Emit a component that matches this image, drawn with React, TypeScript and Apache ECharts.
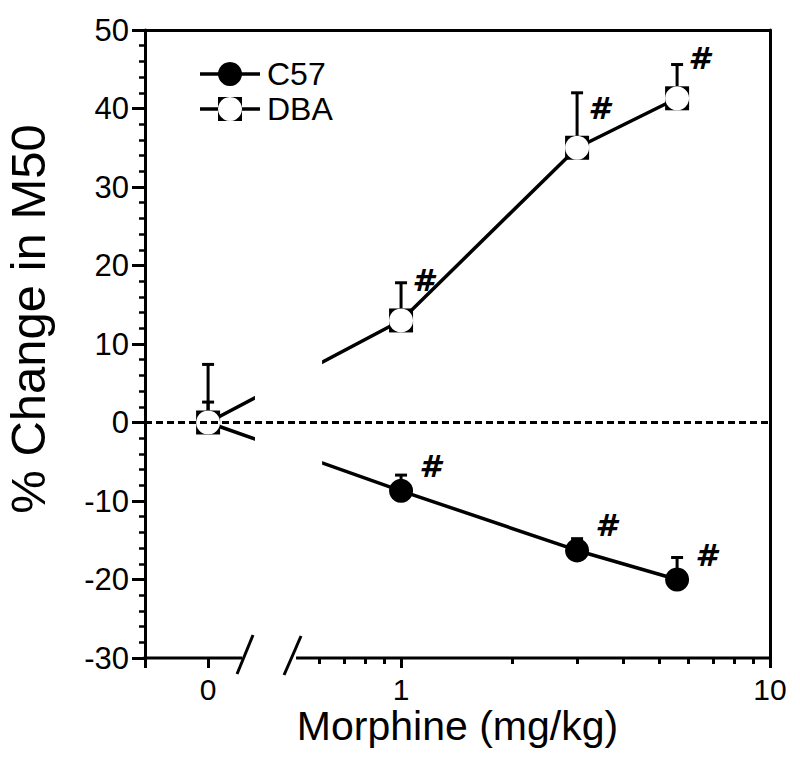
import React, { useEffect, useRef } from "react";
import * as echarts from "echarts";

// ---- data ----
const doses = [0, 1, 3, 5.6]; // mg/kg
const c57Mean = [0, -8.7, -16.3, -20.0];
const c57Upper = [2.6, -6.7, -14.8, -17.2];
const dbaMean = [0, 13.0, 35.0, 41.3];
const dbaUpper = [7.4, 17.8, 42.0, 45.6];
const c57Sig = [false, true, true, true];
const dbaSig = [false, true, true, true];
const xMajorDoses = [0, 1, 10];
const xMinorDoses = [0.6, 0.7, 0.8, 0.9, 2, 3, 4, 5, 6, 7, 8, 9];
const yMin = -30;
const yMax = 50;
const yStep = 10;

// ---- broken axis layout (in decades of the log scale) ----
const ZERO_POS = -0.523; // where dose 0 sits, left of the break
const X_MIN = -0.694;
const X_MAX = 1;
const BREAK_L = -0.431;
const BREAK_R = -0.2846;
const GAP_L = -0.396;
const GAP_R = -0.214;

const toAxis = (d: number) => (d === 0 ? ZERO_POS : Math.log10(d));
const FONT = "'Liberation Sans', Arial, Helvetica, sans-serif";
const SIG_FONT = "'DejaVu Sans', 'Liberation Sans', sans-serif";

export default function App() {
  const ref = useRef<HTMLDivElement>(null);

  useEffect(() => {
    const chart = echarts.init(ref.current!, null, { renderer: "svg" });

    const c57Data = doses.map((d, i) => [toAxis(d), c57Mean[i]]);
    const dbaData = doses.map((d, i) => [toAxis(d), dbaMean[i]]);
    const errData = [
      ...doses.map((d, i) => [toAxis(d), c57Mean[i], c57Upper[i]]),
      ...doses.map((d, i) => [toAxis(d), dbaMean[i], dbaUpper[i]]),
    ];
    const c57SigData = doses
      .map((d, i) => (c57Sig[i] ? [toAxis(d), c57Mean[i]] : null))
      .filter(Boolean);
    const dbaSigData = doses
      .map((d, i) => (dbaSig[i] ? [toAxis(d), dbaMean[i]] : null))
      .filter(Boolean);

    const baseX = {
      type: "value" as const,
      min: X_MIN,
      max: X_MAX,
      splitLine: { show: false },
      axisLine: { show: false, onZero: false },
    };

    const sigSeries = (name: string, data: any[], offset: number[]) => ({
      type: "scatter",
      name,
      z: 6,
      silent: true,
      data,
      symbol: "circle",
      symbolSize: 2,
      itemStyle: { color: "rgba(0,0,0,0)", opacity: 1 },
      label: {
        show: true,
        position: "inside",
        offset,
        formatter: "#",
        fontSize: 31,
        fontWeight: "bold",
        fontStyle: "oblique",
        fontFamily: SIG_FONT,
        color: "#000",
        opacity: 1,
        textBorderWidth: 0,
      },
    });

    chart.setOption({
      animation: false,
      backgroundColor: "#fff",
      grid: {
        left: 145,
        right: 30,
        top: 30,
        bottom: 118,
        containLabel: false,
        outerBoundsMode: "none",
      },
      xAxis: [
        {
          ...baseX,
          position: "bottom",
          name: "Morphine (mg/kg)",
          nameLocation: "middle",
          nameMoveOverlap: false,
          nameGap: 50,
          nameTextStyle: { fontSize: 41, lineHeight: 36, color: "#000", fontFamily: FONT },
          axisTick: {
            show: true,
            length: 10,
            lineStyle: { color: "#000", width: 3 },
            customValues: [X_MIN, ...xMajorDoses.map(toAxis)],
          },
          axisLabel: {
            show: true,
            margin: 18,
            fontSize: 30,
            lineHeight: 26,
            color: "#000",
            fontFamily: FONT,
            customValues: xMajorDoses.map(toAxis),
            formatter: (v: number) =>
              Math.abs(v - ZERO_POS) < 1e-6 ? "0" : String(Math.round(Math.pow(10, v))),
          },
        },
        {
          ...baseX,
          position: "bottom",
          axisTick: {
            show: true,
            length: 6,
            lineStyle: { color: "#000", width: 3 },
            customValues: xMinorDoses.map(toAxis),
          },
          axisLabel: { show: false },
        },
        {
          ...baseX,
          position: "top",
          axisLine: { show: true, onZero: false, lineStyle: { color: "#000", width: 3 } },
          axisTick: { show: false },
          axisLabel: { show: false },
        },
      ],
      yAxis: [
        {
          type: "value",
          min: yMin,
          max: yMax,
          interval: yStep,
          position: "left",
          name: "% Change in M50",
          nameLocation: "middle",
          nameMoveOverlap: false,
          nameRotate: 90,
          nameGap: 93,
          nameTextStyle: { fontSize: 49, color: "#000", fontFamily: FONT, padding: [0, 0, 0, 50] },
          splitLine: { show: false },
          axisLine: { show: true, onZero: false, lineStyle: { color: "#000", width: 3 } },
          axisTick: { show: true, length: 13, lineStyle: { color: "#000", width: 3 } },
          minorTick: { show: true, splitNumber: 5, length: 6, lineStyle: { color: "#000", width: 2.5 } },
          axisLabel: { margin: 16, fontSize: 31, color: "#000", fontFamily: FONT },
        },
        {
          type: "value",
          min: yMin,
          max: yMax,
          position: "right",
          splitLine: { show: false },
          axisLine: { show: true, onZero: false, lineStyle: { color: "#000", width: 3 } },
          axisTick: { show: false },
          axisLabel: { show: false },
        },
      ],
      series: [
        {
          type: "custom",
          name: "err",
          z: 1,
          silent: true,
          data: errData,
          encode: { x: 0, y: [1, 2] },
          renderItem: (params: any, api: any) => {
            const p0 = api.coord([api.value(0), api.value(1)]);
            const p1 = api.coord([api.value(0), api.value(2)]);
            return {
              type: "group",
              children: [
                { type: "line", shape: { x1: p0[0], y1: p0[1], x2: p1[0], y2: p1[1] }, style: { stroke: "#000", lineWidth: 3 } },
                { type: "line", shape: { x1: p1[0] - 6, y1: p1[1], x2: p1[0] + 6, y2: p1[1] }, style: { stroke: "#000", lineWidth: 3 } },
              ],
            };
          },
        },
        {
          type: "line",
          name: "C57",
          z: 3,
          data: c57Data,
          symbol: "circle",
          symbolSize: 24,
          showAllSymbol: true,
          itemStyle: { color: "#000", opacity: 1 },
          lineStyle: { color: "#000", width: 3.5 },
        },
        {
          type: "line",
          name: "DBA",
          z: 3,
          data: dbaData,
          symbol: "rect",
          symbolSize: 24,
          showAllSymbol: true,
          itemStyle: { color: "#000", opacity: 1 },
          lineStyle: { color: "#000", width: 3.5 },
        },
        {
          type: "scatter",
          name: "DBA-inner",
          z: 4,
          silent: true,
          data: dbaData,
          symbol: "circle",
          symbolSize: 24,
          itemStyle: { color: "#fff", opacity: 1 },
        },
        sigSeries("C57 sig", c57SigData, [29, -25]),
        sigSeries("DBA sig", dbaSigData, [22, -40]),
        {
          type: "line",
          name: "zero",
          z: 10,
          silent: true,
          data: [
            [X_MIN, 0],
            [X_MAX, 0],
          ],
          symbol: "none",
          lineStyle: { color: "#000", width: 3, type: [7, 4] },
        },
      ],
    });

    const px = (u: number, y: number) =>
      chart.convertToPixel({ xAxisIndex: 0, yAxisIndex: 0 }, [u, y]) as number[];
    const [xMinPx, yBot] = px(X_MIN, yMin);
    const [bLPx] = px(BREAK_L, yMin);
    const [bRPx] = px(BREAK_R, yMin);
    const [xMaxPx] = px(X_MAX, yMin);
    const [gLPx, gTop] = px(GAP_L, 10);
    const [gRPx, gBot] = px(GAP_R, -7);

    const blk = { stroke: "#000", lineWidth: 3 };
    const legendRows = [
      { name: "C57", y: 74, square: false },
      { name: "DBA", y: 109, square: true },
    ];
    const legendEls: any[] = [];
    legendRows.forEach((r) => {
      legendEls.push({ type: "line", z: 20, shape: { x1: 200, y1: r.y, x2: 260, y2: r.y }, style: { stroke: "#000", lineWidth: 3.5 } });
      if (r.square) {
        legendEls.push({ type: "rect", z: 21, shape: { x: 218, y: r.y - 12, width: 24, height: 24 }, style: { fill: "#000" } });
        legendEls.push({ type: "circle", z: 22, shape: { cx: 230, cy: r.y, r: 12 }, style: { fill: "#fff" } });
      } else {
        legendEls.push({ type: "circle", z: 21, shape: { cx: 230, cy: r.y, r: 12 }, style: { fill: "#000" } });
      }
      legendEls.push({
        type: "text",
        z: 21,
        x: 267,
        y: r.y,
        style: {
          text: r.name,
          fontSize: 32,
          lineHeight: 30,
          fontFamily: FONT,
          fill: "#000",
          verticalAlign: "middle",
          align: "left",
        },
      });
    });

    chart.setOption({
      graphic: [
        { type: "rect", z: 5, shape: { x: gLPx, y: gTop, width: gRPx - gLPx, height: gBot - gTop }, style: { fill: "#fff" } },
        { type: "line", z: 20, shape: { x1: xMinPx - 1.5, y1: yBot, x2: bLPx, y2: yBot }, style: blk },
        { type: "line", z: 20, shape: { x1: bRPx, y1: yBot, x2: xMaxPx + 1.5, y2: yBot }, style: blk },
        { type: "line", z: 20, shape: { x1: bLPx - 5, y1: yBot + 16, x2: bLPx + 11, y2: yBot - 23 }, style: blk },
        { type: "line", z: 20, shape: { x1: bRPx - 12, y1: yBot + 17, x2: bRPx + 5, y2: yBot - 22 }, style: blk },
        ...legendEls,
      ],
    });

    return () => chart.dispose();
  }, []);

  return <div ref={ref} style={{ position: "absolute", left: 0, top: 0, width: 800, height: 776 }} />;
}
